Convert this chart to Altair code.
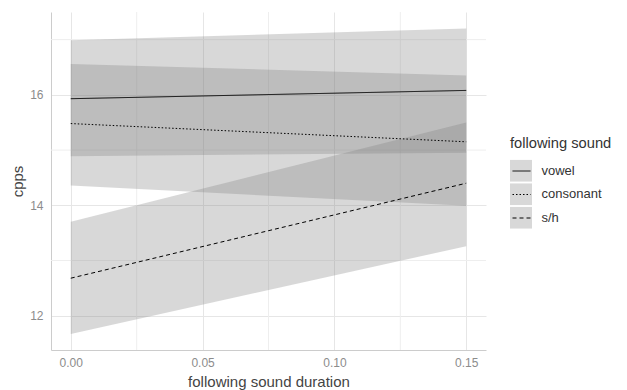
import altair as alt
import pandas as pd

# ---- data ----
sounds = ["vowel", "consonant", "s/h"]
x_ends = [0.0, 0.15]

fit_vowel = [15.93, 16.08]
fit_consonant = [15.48, 15.15]
fit_sh = [12.68, 14.40]

lower_vowel = [14.89, 14.95]
upper_vowel = [16.99, 17.20]
lower_consonant = [14.36, 13.99]
upper_consonant = [16.56, 16.35]
lower_sh = [11.67, 13.26]
upper_sh = [13.70, 15.50]

x_major = [0.0, 0.05, 0.10, 0.15]
x_minor = [0.025, 0.075, 0.125]
y_major = [12, 14, 16]
y_minor = [13, 15, 17]

fits = [fit_vowel, fit_consonant, fit_sh]
lowers = [lower_vowel, lower_consonant, lower_sh]
uppers = [upper_vowel, upper_consonant, upper_sh]

rows = []
for s, f, lo, hi in zip(sounds, fits, lowers, uppers):
    for i, xv in enumerate(x_ends):
        rows.append({"dur": xv, "sound": s, "key": s, "fit": f[i], "lo": lo[i], "hi": hi[i]})
df = pd.DataFrame(rows)

FONT = "Liberation Sans"

xscale = alt.Scale(domain=[-0.0075, 0.1575], nice=False, zero=False)
yscale = alt.Scale(domain=[11.38, 17.5], nice=False, zero=False)

xaxis = alt.Axis(values=x_major, format=".2f", title="following sound duration",
                 labelPadding=7, titlePadding=6)
yaxis = alt.Axis(values=y_major, format="d", title="cpps",
                 labelPadding=8, titlePadding=4)

leg_common = dict(
    orient="none", direction="vertical",
    labelFont=FONT, labelFontSize=13, labelColor="#333333", labelOffset=9.5,
    clipHeight=22, rowPadding=1.5, padding=0,
)

grid_x = alt.Chart(pd.DataFrame({"v": x_minor})).mark_rule(
    color="#eeeeee", strokeWidth=1
).encode(x=alt.X("v:Q", scale=xscale, axis=xaxis))

grid_y = alt.Chart(pd.DataFrame({"v": y_minor})).mark_rule(
    color="#eeeeee", strokeWidth=1
).encode(y=alt.Y("v:Q", scale=yscale, axis=yaxis))

bands = alt.Chart(df).mark_area(opacity=0.3).encode(
    x=alt.X("dur:Q", scale=xscale, axis=xaxis),
    y=alt.Y("lo:Q", scale=yscale, axis=yaxis),
    y2="hi:Q",
    fill=alt.Fill("key:N", sort=sounds,
                  scale=alt.Scale(range=["#7f7f7f", "#7f7f7f", "#7f7f7f"]),
                  legend=alt.Legend(
                      title="following sound", titleFont=FONT, titleFontSize=14.7,
                      titleFontWeight="normal", titleColor="#333333", titlePadding=9,
                      symbolType="square", symbolStrokeWidth=0,
                      symbolSize=484, legendX=459, legendY=124, **leg_common)),
)

lines = alt.Chart(df).mark_line(color="black", strokeWidth=1).encode(
    x=alt.X("dur:Q", scale=xscale, axis=xaxis),
    y=alt.Y("fit:Q", scale=yscale, axis=yaxis),
    strokeDash=alt.StrokeDash(
        "sound:N",
        scale=alt.Scale(domain=sounds, range=[[1, 0], [1.5, 2], [4, 3]]),
        legend=alt.Legend(title=None, labelExpr="''",
                          symbolType="stroke", symbolStrokeColor="black",
                          symbolStrokeWidth=1, symbolSize=324,
                          legendX=461, legendY=148, **leg_common),
    ),
)

chart = alt.layer(grid_x, grid_y, bands, lines).properties(
    width=435, height=338,
    padding={"left": 43, "top": 4, "right": 133, "bottom": 40},
    autosize=alt.AutoSizeParams(type="none"),
).configure_view(stroke=None).configure_axis(
    domainColor="#cccccc", domainWidth=1,
    gridColor="#e6e6e6", gridWidth=1,
    ticks=False, tickSize=0,
    labelFont=FONT, labelFontSize=12, labelColor="#8c8c8c",
    titleFont=FONT, titleFontSize=15, titleFontWeight="normal", titleColor="#444444",
)

chart.save("out.html", embed_options={"renderer": "svg", "actions": False})
